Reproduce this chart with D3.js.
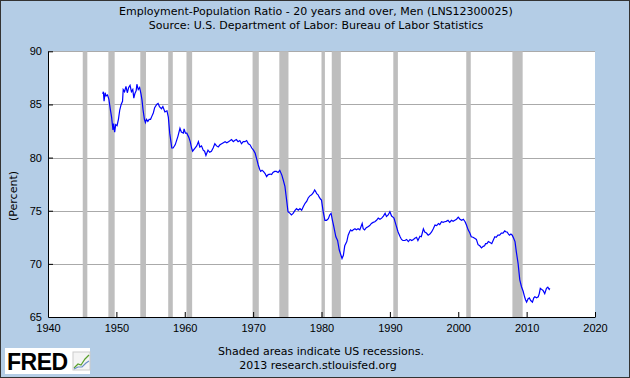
<!DOCTYPE html>
<meta charset="utf-8">
<style>
body { margin: 0; }
svg { display: block; font-family: "DejaVu Sans", sans-serif; }
.tick text { font-size: 11px; fill: #000; }
</style>
<svg width="630" height="378"></svg>
<script src="https://d3js.org/d3.v7.min.js"></script>
<script>

// LNS12300025 (decimal year, percent)
var years = [
  1948.0,1948.1,1948.2,1948.35,1948.5,1948.7,1948.9,1949.1,1949.3,1949.5,1949.6,1949.75,1949.9,
  1950.1,1950.3,1950.5,1950.7,1950.9,1951.0,1951.2,1951.4,1951.6,1951.8,1952.0,1952.2,1952.4,1952.55,1952.7,1952.9,
  1953.0,1953.2,1953.4,1953.6,1953.75,1953.9,1954.1,1954.25,1954.4,1954.6,1954.8,1955.0,1955.2,1955.4,1955.6,1955.9,
  1956.1,1956.3,1956.6,1956.8,1957.1,1957.4,1957.6,1957.8,1958.0,1958.1,1958.3,1958.6,1958.8,1959.0,1959.3,1959.5,1959.8,1959.9,
  1960.1,1960.3,1960.6,1960.8,1961.0,1961.15,1961.5,1961.75,1962.0,1962.2,1962.45,1962.7,1962.9,1963.1,1963.4,1963.65,1963.9,
  1964.15,1964.4,1964.65,1964.9,1965.15,1965.4,1965.65,1965.9,1966.15,1966.4,1966.65,1966.85,1967.1,1967.3,1967.55,1967.8,
  1968.05,1968.3,1968.55,1968.8,1969.05,1969.3,1969.55,1969.8,1970.05,1970.3,1970.55,1970.75,1970.95,1971.1,1971.3,1971.5,1971.75,1971.97,
  1972.2,1972.5,1972.7,1972.9,1973.15,1973.4,1973.65,1973.9,1974.2,1974.4,1974.65,1974.9,1975.1,1975.4,1975.6,1975.85,
  1976.1,1976.35,1976.6,1976.85,1977.1,1977.35,1977.6,1977.85,1978.05,1978.3,1978.55,1978.8,1979.0,1979.15,1979.3,1979.5,1979.65,1979.85,
  1980.0,1980.25,1980.5,1980.75,1981.0,1981.2,1981.4,1981.6,1981.8,1982.1,1982.35,1982.6,1982.8,1983.0,1983.2,1983.4,1983.7,1983.9,
  1984.1,1984.25,1984.45,1984.65,1984.9,1985.1,1985.35,1985.6,1985.95,1986.1,1986.3,1986.55,1986.8,1987.05,1987.3,1987.55,1987.8,
  1988.05,1988.3,1988.55,1988.8,1989.05,1989.3,1989.5,1989.75,1990.0,1990.25,1990.45,1990.6,1990.9,1991.2,1991.5,1991.7,1991.9,
  1992.2,1992.45,1992.7,1992.95,1993.2,1993.45,1993.65,1993.9,1994.1,1994.4,1994.6,1994.9,1995.1,1995.35,1995.6,1995.85,
  1996.1,1996.35,1996.6,1996.85,1997.1,1997.3,1997.55,1997.8,1998.0,1998.25,1998.5,1998.75,1999.0,1999.25,1999.5,1999.75,
  2000.0,2000.25,2000.5,2000.75,2001.0,2001.2,2001.45,2001.7,2001.9,2002.15,2002.4,2002.65,2002.9,2003.15,2003.4,2003.65,2003.85,
  2004.0,2004.2,2004.4,2004.65,2004.9,2005.1,2005.35,2005.55,2005.8,2006.05,2006.3,2006.55,2006.8,2007.0,2007.15,2007.35,2007.5,2007.7,2007.9,
  2008.1,2008.3,2008.5,2008.75,2009.0,2009.25,2009.5,2009.7,2009.85,2010.0,2010.2,2010.4,2010.6,2010.85,
  2011.05,2011.2,2011.45,2011.7,2011.85,2012.0,2012.2,2012.4,2012.65,2012.9,2013.1,2013.3,2013.4
];
var ratio = [
  86.0,86.2,85.3,86.1,85.8,85.9,85.5,84.6,83.8,82.6,83.2,82.4,83.1,
  83.0,83.6,84.5,85.0,85.3,86.4,86.2,86.7,86.1,86.6,86.8,86.2,86.4,85.6,86.0,86.3,
  86.9,86.4,86.6,86.0,85.4,84.5,83.6,83.3,83.6,83.4,83.6,83.6,83.9,84.2,84.7,85.0,
  85.1,84.8,84.6,84.8,84.3,84.4,83.8,82.3,81.4,80.9,80.9,81.2,81.6,82.0,82.75,82.4,82.3,82.7,
  82.3,82.3,81.9,81.5,80.9,80.6,80.9,81.1,81.5,81.0,81.1,80.7,80.6,80.2,80.7,80.5,80.6,
  80.9,81.3,81.1,81.0,81.2,81.3,81.4,81.5,81.4,81.5,81.6,81.7,81.5,81.6,81.7,81.5,
  81.6,81.3,81.5,81.5,81.6,81.3,81.2,80.9,80.7,80.4,79.8,79.3,78.9,78.7,78.8,78.7,78.5,78.2,
  78.4,78.45,78.4,78.6,78.7,78.7,78.6,78.8,78.35,77.9,77.3,76.0,74.9,74.75,74.6,74.75,
  75.0,75.2,75.05,75.2,75.05,75.4,75.7,75.9,76.2,76.4,76.5,76.7,76.95,76.8,76.6,76.5,76.3,76.1,
  76.0,74.9,74.1,74.1,74.25,74.6,74.75,74.1,73.5,72.55,72.2,71.3,70.9,70.5,70.8,71.7,72.1,72.7,
  73.0,73.2,73.1,73.2,73.3,73.2,73.3,73.2,73.8,73.3,73.2,73.4,73.5,73.6,73.8,73.9,73.96,
  74.1,74.3,74.2,74.3,74.5,74.75,74.45,74.6,74.9,74.5,74.4,74.3,73.65,73.0,72.55,72.3,72.2,
  72.2,72.3,72.1,72.3,72.2,72.3,72.4,72.5,72.2,72.6,72.55,73.3,73.0,72.9,72.7,72.8,
  73.0,73.3,73.65,73.6,73.8,73.7,73.96,73.9,73.96,74.0,74.1,73.9,74.1,74.0,74.1,74.2,
  74.4,74.2,74.1,74.2,73.96,73.65,73.2,72.9,72.55,72.5,72.4,72.3,71.8,71.7,71.5,71.65,71.7,
  71.9,71.9,72.1,72.0,71.9,72.2,72.55,72.5,72.7,72.7,72.9,72.9,73.1,73.0,73.0,72.8,72.7,72.8,72.7,
  72.4,72.1,71.1,70.05,68.5,67.85,67.4,66.9,66.6,66.4,66.7,66.8,66.55,66.4,
  66.8,66.9,66.8,66.9,67.2,67.7,67.6,67.5,67.2,67.7,67.8,67.6,67.7
];

// NBER recessions (decimal years)
var recStart = [1945.08,1948.83,1953.5,1957.58,1960.25,1969.92,1973.83,1980.0,1981.5,1990.5,2001.17,2007.92];
var recEnd   = [1945.75,1949.75,1954.33,1958.25,1961.08,1970.83,1975.17,1980.5,1982.83,1991.17,2001.83,2009.42];

var xTicks = [1940,1950,1960,1970,1980,1990,2000,2010,2020];
var yTicks = [65,70,75,80,85,90];

var svg = d3.select("svg"),
    width = +svg.attr("width"),
    height = +svg.attr("height");

// note: "top" is taken by window.top, so plot edges get their own names
var plotLeft = 48, plotRight = 595, plotTop = 51.3, plotBottom = 317;

svg.append("rect")
  .attr("x", 0.5).attr("y", 0.5)
  .attr("width", width - 1).attr("height", height - 1)
  .attr("fill", "#b4cde6")
  .attr("stroke", "#333");

var x = d3.scaleLinear().domain([1940, 2020]).range([plotLeft, plotRight]);
var y = d3.scaleLinear().domain([65, 90]).range([plotBottom, plotTop]);

// plot area
svg.append("rect")
  .attr("x", plotLeft).attr("y", plotTop)
  .attr("width", plotRight - plotLeft).attr("height", plotBottom - plotTop)
  .attr("fill", "#fff");

// grid
svg.append("g").selectAll("line")
  .data(yTicks.slice(1))
  .enter().append("line")
    .attr("x1", plotLeft).attr("x2", plotRight)
    .attr("y1", function(d) { return Math.round(y(d)) + 0.5; })
    .attr("y2", function(d) { return Math.round(y(d)) + 0.5; })
    .attr("stroke", "#aaa");

// recession bars
svg.append("g").selectAll("rect")
  .data(recStart)
  .enter().append("rect")
    .attr("x", function(d) { return x(d); })
    .attr("width", function(d, i) { return x(recEnd[i]) - x(d); })
    .attr("y", plotTop)
    .attr("height", plotBottom - plotTop)
    .attr("fill", "#bebebe");

// the series
var line = d3.line()
  .x(function(d, i) { return x(years[i]); })
  .y(function(d) { return y(d); });

svg.append("path")
  .datum(ratio)
  .attr("d", line)
  .attr("fill", "none")
  .attr("stroke", "#0000ff")
  .attr("stroke-width", 1.2);

// axes, ticks point inward
var yAxis = svg.append("g")
  .attr("transform", "translate(" + plotLeft + ",0)")
  .call(d3.axisLeft(y).tickValues(yTicks).tickSizeInner(-5).tickSizeOuter(0).tickPadding(6));

var xAxis = svg.append("g")
  .attr("transform", "translate(0," + plotBottom + ")")
  .call(d3.axisBottom(x).tickValues(xTicks).tickFormat(d3.format("d")).tickSizeInner(-5).tickSizeOuter(0).tickPadding(7));

svg.selectAll(".domain").attr("stroke", "#000");
svg.selectAll(".tick line").attr("stroke", "#000");
xAxis.selectAll(".tick line").filter(function(d) { return d === 1940; }).remove();
yAxis.selectAll(".tick line").filter(function(d) { return d === 65; }).remove();
yAxis.selectAll(".tick text").attr("x", -6);

// titles
svg.append("text")
  .attr("x", 316).attr("y", 15)
  .attr("text-anchor", "middle")
  .attr("font-size", 11)
  .text("Employment-Population Ratio - 20 years and over, Men (LNS12300025)");
svg.append("text")
  .attr("x", 316).attr("y", 29)
  .attr("text-anchor", "middle")
  .attr("font-size", 11)
  .text("Source: U.S. Department of Labor: Bureau of Labor Statistics");

svg.append("text")
  .attr("transform", "translate(17,196) rotate(-90)")
  .attr("text-anchor", "middle")
  .attr("font-size", 11)
  .text("(Percent)");

svg.append("text")
  .attr("x", 321).attr("y", 355)
  .attr("text-anchor", "middle")
  .attr("font-size", 11)
  .text("Shaded areas indicate US recessions.");
svg.append("text")
  .attr("x", 318).attr("y", 369)
  .attr("text-anchor", "middle")
  .attr("font-size", 11)
  .text("2013 research.stlouisfed.org");

// FRED logo
var logo = svg.append("g").attr("transform", "translate(5,348)");
logo.append("rect").attr("width", 85).attr("height", 26).attr("fill", "#fff");
logo.append("text")
  .attr("x", 2).attr("y", 22)
  .attr("font-family", "Liberation Sans, Arial, sans-serif")
  .attr("font-weight", "bold")
  .attr("font-size", 23)
  .attr("letter-spacing", -0.5)
  .text("FRED");
var icon = logo.append("g").attr("transform", "translate(68,4)");
icon.append("rect").attr("width", 17).attr("height", 18).attr("fill", "#f4f4f4").attr("stroke", "#ccc");
icon.append("path").attr("d", "M1,16 L5,12 L8,13 L12,7 L16,3").attr("fill", "none").attr("stroke", "#5aa02c").attr("stroke-width", 1.2);
icon.append("path").attr("d", "M1,17 L5,15 L9,15 L13,11 L16,9").attr("fill", "none").attr("stroke", "#6a8fc8").attr("stroke-width", 1.2);

</script>
